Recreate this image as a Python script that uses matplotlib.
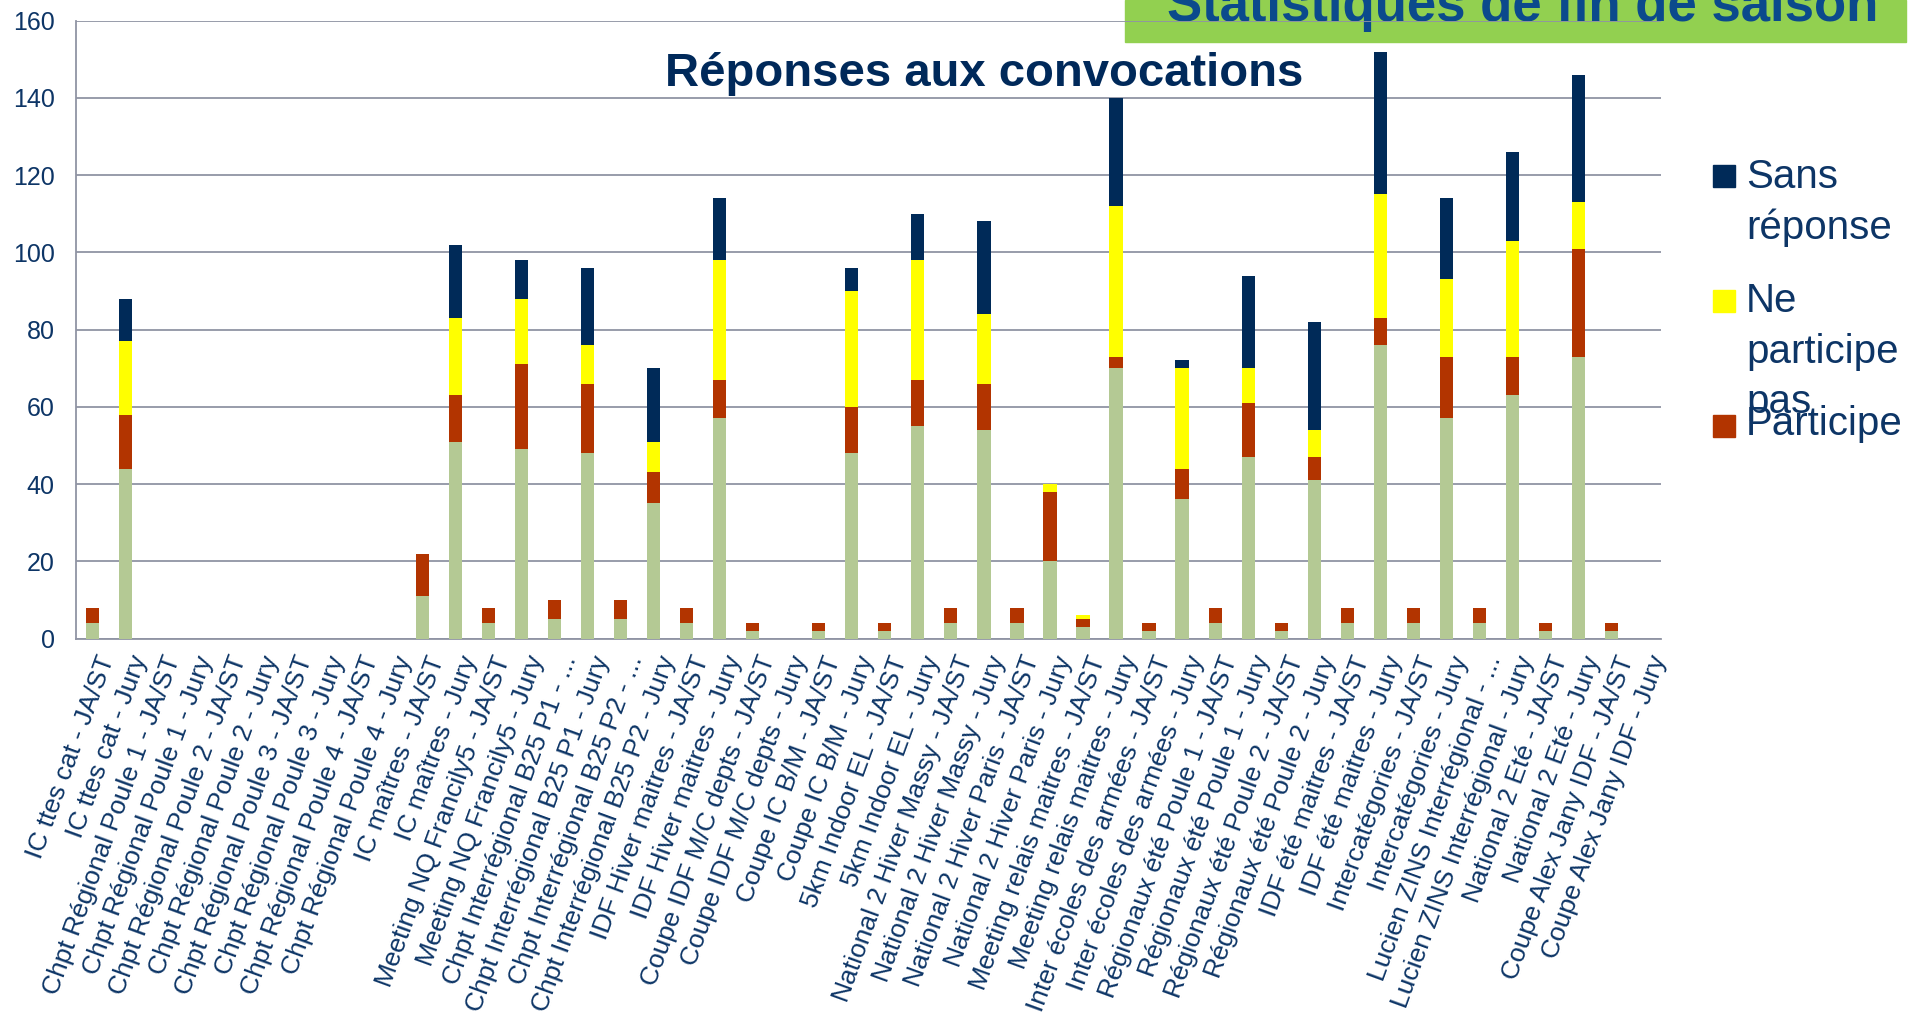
import numpy as np
import matplotlib.pyplot as plt
from matplotlib.patches import Rectangle
from matplotlib.transforms import ScaledTranslation

plt.rcParams['font.family'] = ['Liberation Sans', 'DejaVu Sans']

categories = [
    "IC ttes cat - JA/ST", "IC ttes cat - Jury",
    "Chpt Régional Poule 1 - JA/ST", "Chpt Régional Poule 1 - Jury",
    "Chpt Régional Poule 2 - JA/ST", "Chpt Régional Poule 2 - Jury",
    "Chpt Régional Poule 3 - JA/ST", "Chpt Régional Poule 3 - Jury",
    "Chpt Régional Poule 4 - JA/ST", "Chpt Régional Poule 4 - Jury",
    "IC maîtres - JA/ST", "IC maîtres - Jury",
    "Meeting NQ Francily5 - JA/ST", "Meeting NQ Francily5 - Jury",
    "Chpt Interrégional B25 P1 - ...", "Chpt Interrégional B25 P1 - Jury",
    "Chpt Interrégional B25 P2 - ...", "Chpt Interrégional B25 P2 - Jury",
    "IDF Hiver maitres - JA/ST", "IDF Hiver maitres - Jury",
    "Coupe IDF M/C depts - JA/ST", "Coupe IDF M/C depts - Jury",
    "Coupe IC B/M - JA/ST", "Coupe IC B/M - Jury",
    "5km Indoor EL - JA/ST", "5km Indoor EL - Jury",
    "National 2 Hiver Massy - JA/ST", "National 2 Hiver Massy - Jury",
    "National 2 Hiver Paris - JA/ST", "National 2 Hiver Paris - Jury",
    "Meeting relais maitres - JA/ST", "Meeting relais maitres - Jury",
    "Inter écoles des armées - JA/ST", "Inter écoles des armées - Jury",
    "Régionaux été Poule 1 - JA/ST", "Régionaux été Poule 1 - Jury",
    "Régionaux été Poule 2 - JA/ST", "Régionaux été Poule 2 - Jury",
    "IDF été maitres - JA/ST", "IDF été maitres - Jury",
    "Intercatégories - JA/ST", "Intercatégories - Jury",
    "Lucien ZINS Interrégional - ...", "Lucien ZINS Interrégional - Jury",
    "National 2 Eté - JA/ST", "National 2 Eté - Jury",
    "Coupe Alex Jany IDF - JA/ST", "Coupe Alex Jany IDF - Jury",
]

# series, bottom to top
vert = [4, 44, 0, 0, 0, 0, 0, 0, 0, 0,
        11, 51, 4, 49, 5, 48, 5, 35, 4, 57,
        2, 0, 2, 48, 2, 55, 4, 54, 4, 20,
        3, 70, 2, 36, 4, 47, 2, 41, 4, 76,
        4, 57, 4, 63, 2, 73, 2, 0]
participe = [4, 14, 0, 0, 0, 0, 0, 0, 0, 0,
             11, 12, 4, 22, 5, 18, 5, 8, 4, 10,
             2, 0, 2, 12, 2, 12, 4, 12, 4, 18,
             2, 3, 2, 8, 4, 14, 2, 6, 4, 7,
             4, 16, 4, 10, 2, 28, 2, 0]
ne_participe_pas = [0, 19, 0, 0, 0, 0, 0, 0, 0, 0,
                    0, 20, 0, 17, 0, 10, 0, 8, 0, 31,
                    0, 0, 0, 30, 0, 31, 0, 18, 0, 2,
                    1, 39, 0, 26, 0, 9, 0, 7, 0, 32,
                    0, 20, 0, 30, 0, 12, 0, 0]
sans_reponse = [0, 11, 0, 0, 0, 0, 0, 0, 0, 0,
                0, 19, 0, 10, 0, 20, 0, 19, 0, 16,
                0, 0, 0, 6, 0, 12, 0, 24, 0, 0,
                0, 28, 0, 2, 0, 24, 0, 28, 0, 37,
                0, 21, 0, 23, 0, 33, 0, 0]

W, H = 1912, 1021
navy_txt = '#0d3566'
grid_col = '#9094a4'

def px(x):
    return x / W

def py(y):
    return 1 - y / H

fig = plt.figure(figsize=(W / 100, H / 100), dpi=100)
ax = fig.add_axes([px(75.6), py(638.5), px(1661 - 75.6), (638.5 - 20.7) / H])
ax.set_facecolor('none')

x = np.arange(len(categories))
b1 = np.array(vert)
b2 = b1 + np.array(participe)
b3 = b2 + np.array(ne_participe_pas)
ax.bar(x, vert, width=0.4, color='#b4c994', zorder=3)
ax.bar(x, participe, width=0.4, bottom=b1, color='#b23400', zorder=3)
ax.bar(x, ne_participe_pas, width=0.4, bottom=b2, color='#ffff00', zorder=3)
ax.bar(x, sans_reponse, width=0.4, bottom=b3, color='#002a58', zorder=3)

ax.set_xlim(-0.5, len(categories) - 0.5)
ax.set_ylim(0, 160)
ax.set_yticks(np.arange(0, 161, 20))
ax.yaxis.grid(True, color=grid_col, linewidth=1.3)
ax.set_axisbelow(True)
for s in ['top', 'right']:
    ax.spines[s].set_visible(False)
for s in ['left', 'bottom']:
    ax.spines[s].set_color(grid_col)
    ax.spines[s].set_linewidth(1.3)

ax.tick_params(axis='y', length=0, pad=15, labelsize=18, labelcolor=navy_txt)
ax.tick_params(axis='x', length=0, pad=10, labelsize=19, labelcolor=navy_txt)
ax.set_xticks(x)
ax.set_xticklabels(categories)
shift = ScaledTranslation(4 / 100, 0, fig.dpi_scale_trans)
for lab in ax.get_xticklabels():
    lab.set_rotation(70)
    lab.set_rotation_mode('anchor')
    lab.set_ha('right')
    lab.set_va('top')
    lab.set_transform(lab.get_transform() + shift)

# bandeau vert en haut
fig.add_artist(Rectangle((px(1125), py(41.7)), px(1906 - 1125), 41.7 / H,
                         transform=fig.transFigure, color='#92d050', zorder=-2))
fig.text(px(1167), py(21), 'Statistiques de fin de saison', fontsize=38,
         fontweight='bold', color='#0b4a8c', va='baseline', zorder=-1)

fig.text(px(984), py(86), 'Réponses aux convocations', fontsize=34,
         fontweight='bold', color='#00295a', ha='center', va='baseline', zorder=5)

# legende
leg = [('#002a58', 187, [('Sans', 188), ('réponse', 239)]),
       ('#ffff00', 312, [('Ne', 312), ('participe', 363), ('pas', 413)]),
       ('#b23400', 437, [('Participe', 435)])]
for col, sq_bottom, lines in leg:
    fig.add_artist(Rectangle((px(1713), py(sq_bottom)), px(21.7), 21.7 / H,
                             transform=fig.transFigure, color=col))
    for txt, yb in lines:
        fig.text(px(1746), py(yb), txt, fontsize=29, color=navy_txt, va='baseline')

fig.savefig('out.png', dpi=100)
